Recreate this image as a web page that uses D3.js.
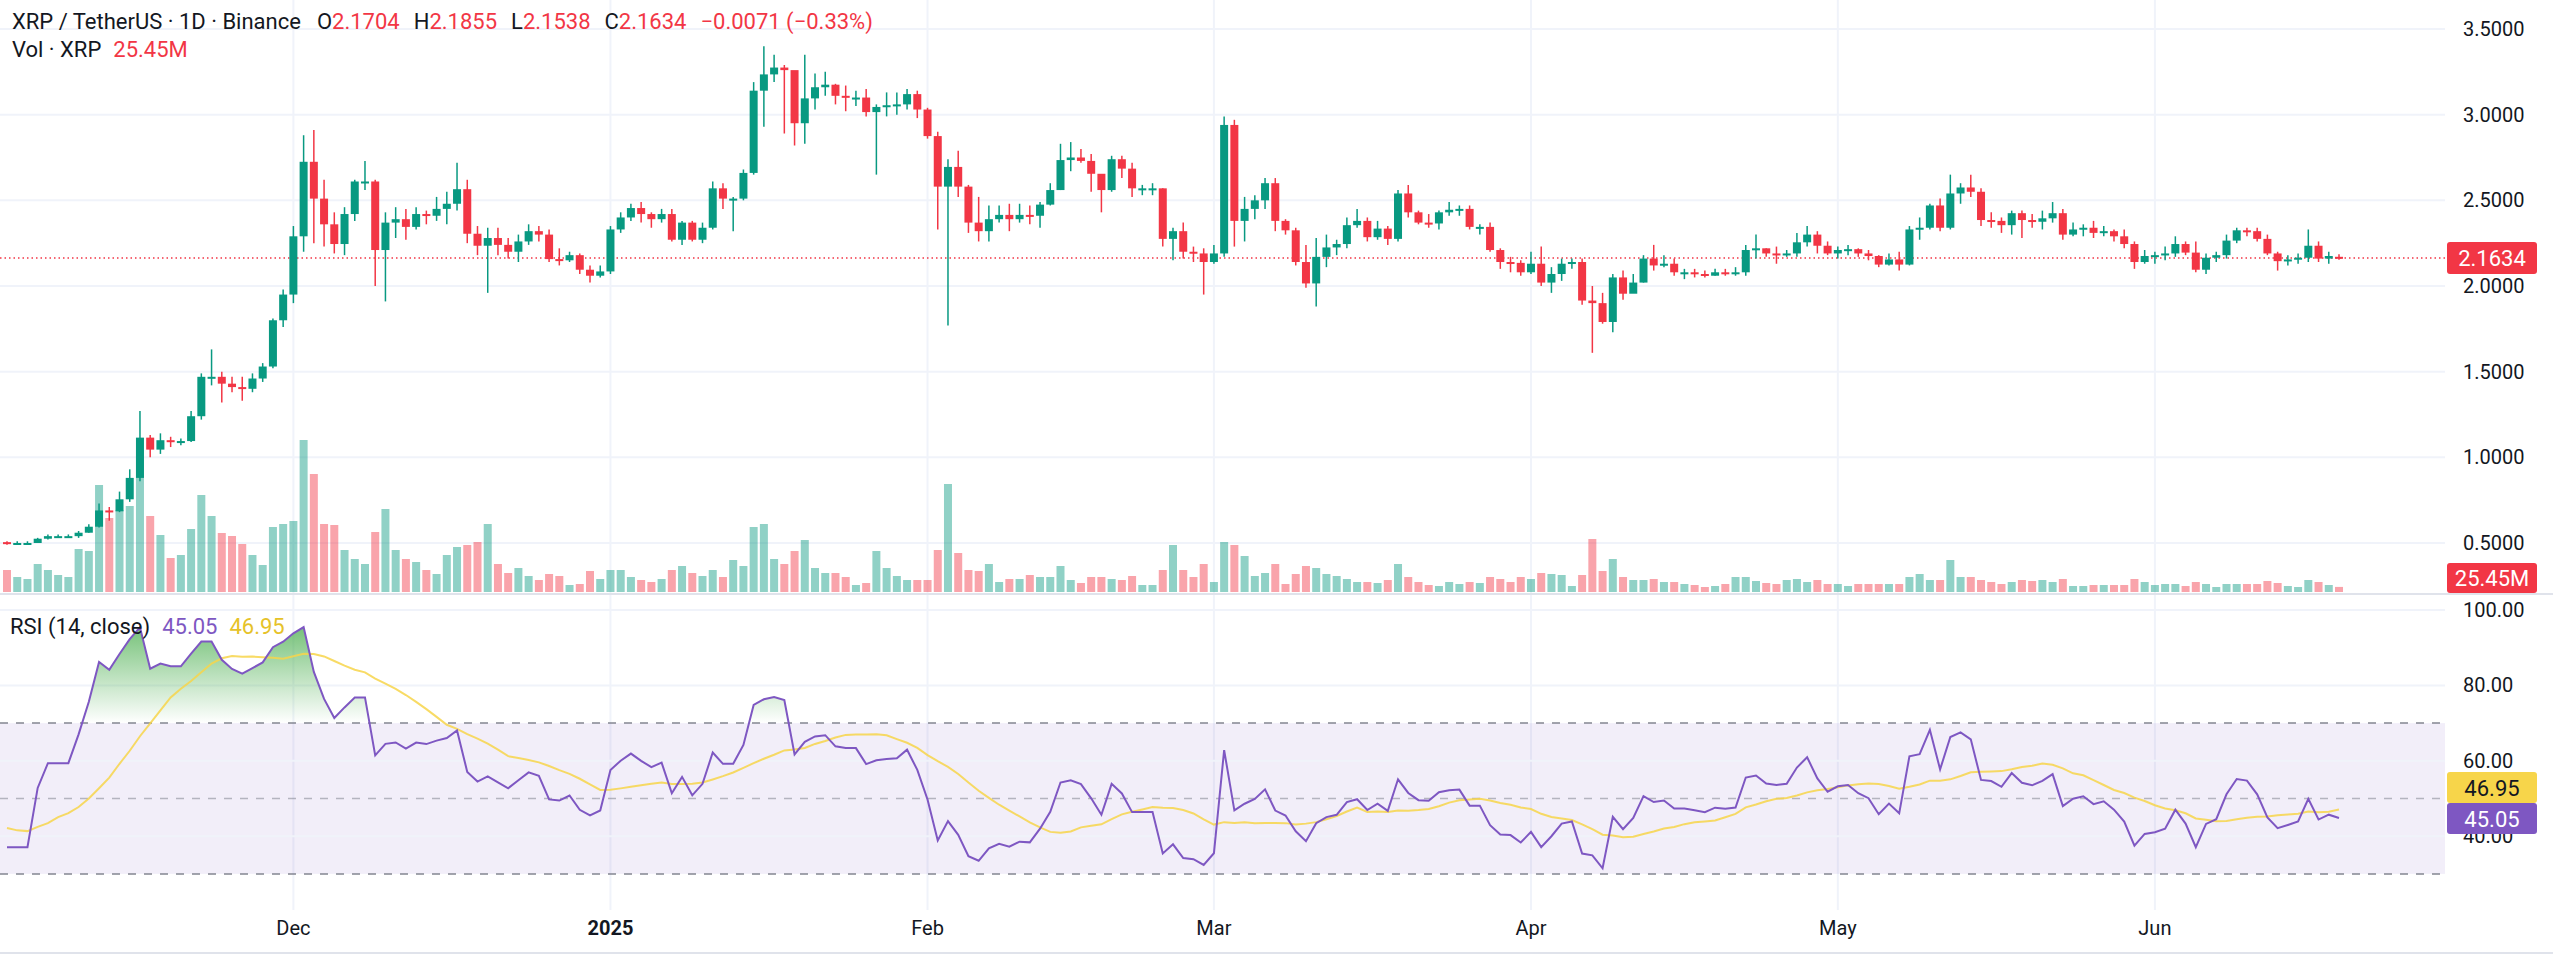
<!DOCTYPE html>
<html>
<head>
<meta charset="utf-8">
<script src="https://cdn.jsdelivr.net/npm/d3@7"></script>
<style>
  body { margin: 0; background: #fff; }
  svg text { font-family: Roboto, "Noto Sans", sans-serif; }
</style>
</head>
<body>
<div id="chart"></div>
<script>
// daily candles, 2024-11-03 .. 2025-06-19 (open = previous close)
var firstOpen = 0.505;
var closes = [].concat(
  [0.50,0.50,0.50,0.525,0.54,0.54,0.54,0.56,0.595,0.69,0.685,0.755,0.88,1.115,1.045,1.10,1.095,1.095,1.24,1.47,1.47,1.43,1.41,1.40,1.46,1.53,1.80,1.95],
  [2.29,2.725,2.51,2.36,2.245,2.42,2.61,2.61,2.21,2.37,2.39,2.345,2.42,2.41,2.45,2.48,2.565,2.305,2.235,2.28,2.24,2.20,2.26,2.32,2.30,2.157,2.15,2.18,2.095,2.06,2.085],
  [2.33,2.40,2.455,2.42,2.39,2.42,2.27,2.37,2.27,2.34,2.57,2.51,2.51,2.66,3.14,3.235,3.275,3.26,2.95,3.095,3.16,3.175,3.11,3.10,3.10,3.015,3.045,3.055,3.06,3.12,3.03],
  [2.875,2.58,2.695,2.58,2.37,2.32,2.39,2.415,2.39,2.415,2.41,2.475,2.56,2.735,2.75,2.73,2.655,2.56,2.74,2.685,2.57,2.57,2.57,2.275,2.32,2.20,2.19,2.14],
  [2.19,2.94,2.38,2.45,2.50,2.60,2.38,2.325,2.14,2.015,2.17,2.225,2.245,2.355,2.38,2.285,2.335,2.275,2.54,2.43,2.37,2.365,2.43,2.445,2.45,2.345,2.345,2.21,2.14,2.135,2.08],
  [2.13,2.02,2.07,2.13,2.14,1.915,1.90,1.79,2.05,1.955,2.02,2.16,2.12,2.13,2.08,2.08,2.07,2.06,2.08,2.075,2.08,2.21,2.22,2.19,2.185,2.19,2.255,2.30,2.235,2.19],
  [2.21,2.215,2.19,2.175,2.125,2.155,2.125,2.33,2.34,2.47,2.34,2.54,2.575,2.55,2.385,2.38,2.355,2.425,2.385,2.375,2.395,2.425,2.30,2.33,2.34,2.31,2.32,2.29,2.245,2.14,2.175],
  [2.18,2.19,2.245,2.195,2.095,2.165,2.18,2.265,2.325,2.32,2.275,2.19,2.145,2.155,2.165,2.235,2.16,2.175,2.1634]
);
var highs = [].concat(
  [0.51,0.51,0.51,0.53,0.55,0.55,0.55,0.57,0.61,0.73,0.71,0.80,0.93,1.27,1.13,1.14,1.12,1.11,1.27,1.49,1.63,1.50,1.47,1.47,1.49,1.55,1.81,1.98],
  [2.35,2.88,2.91,2.62,2.43,2.46,2.62,2.73,2.62,2.43,2.46,2.45,2.46,2.44,2.52,2.55,2.72,2.62,2.35,2.34,2.34,2.28,2.30,2.36,2.35,2.33,2.22,2.20,2.19,2.12,2.12],
  [2.35,2.43,2.48,2.49,2.43,2.45,2.45,2.38,2.38,2.37,2.61,2.60,2.52,2.68,3.19,3.40,3.35,3.29,3.24,3.35,3.24,3.25,3.18,3.17,3.14,3.15,3.06,3.13,3.13,3.15,3.14],
  [3.04,2.90,2.74,2.79,2.59,2.52,2.47,2.47,2.48,2.48,2.47,2.49,2.60,2.83,2.84,2.80,2.77,2.65,2.76,2.76,2.72,2.59,2.60,2.57,2.34,2.37,2.23,2.22],
  [2.24,2.99,2.97,2.52,2.53,2.63,2.63,2.39,2.34,2.24,2.28,2.30,2.27,2.40,2.45,2.40,2.38,2.35,2.56,2.59,2.44,2.42,2.44,2.49,2.47,2.47,2.36,2.37,2.22,2.17,2.15],
  [2.20,2.23,2.11,2.16,2.16,2.16,2.00,1.96,2.07,2.09,2.07,2.18,2.24,2.18,2.16,2.10,2.10,2.09,2.10,2.10,2.11,2.24,2.30,2.22,2.23,2.21,2.31,2.35,2.32,2.26],
  [2.23,2.24,2.22,2.21,2.18,2.19,2.20,2.35,2.40,2.48,2.51,2.65,2.60,2.65,2.57,2.43,2.40,2.44,2.44,2.42,2.44,2.49,2.45,2.37,2.36,2.38,2.35,2.33,2.33,2.26,2.21],
  [2.20,2.23,2.29,2.26,2.26,2.19,2.20,2.30,2.34,2.34,2.34,2.30,2.20,2.18,2.19,2.33,2.26,2.20,2.1855]
);
var lows = [].concat(
  [0.49,0.49,0.49,0.50,0.52,0.53,0.53,0.53,0.56,0.59,0.63,0.68,0.74,0.86,1.00,1.02,1.06,1.07,1.09,1.22,1.42,1.32,1.38,1.33,1.38,1.44,1.52,1.76],
  [1.90,2.20,2.25,2.23,2.19,2.18,2.38,2.56,2.00,1.91,2.28,2.27,2.33,2.36,2.38,2.36,2.44,2.25,2.18,1.96,2.18,2.16,2.14,2.24,2.26,2.14,2.12,2.14,2.07,2.02,2.05],
  [2.07,2.31,2.38,2.37,2.34,2.37,2.26,2.24,2.26,2.25,2.33,2.45,2.32,2.50,2.65,2.93,3.19,2.89,2.82,2.83,3.03,3.11,3.06,3.02,3.05,2.99,2.65,2.99,3.00,3.03,2.98],
  [2.86,2.33,1.77,2.52,2.31,2.26,2.26,2.37,2.32,2.37,2.36,2.34,2.47,2.56,2.67,2.72,2.55,2.43,2.55,2.63,2.52,2.53,2.53,2.23,2.15,2.16,2.14,1.95],
  [2.13,2.17,2.23,2.26,2.39,2.45,2.32,2.30,2.12,1.99,1.88,2.11,2.18,2.22,2.34,2.26,2.27,2.24,2.26,2.40,2.36,2.34,2.33,2.41,2.41,2.33,2.30,2.20,2.10,2.08,2.06],
  [2.07,2.00,1.96,2.03,2.10,1.89,1.61,1.78,1.73,1.92,1.98,2.02,2.09,2.11,2.06,2.04,2.05,2.05,2.06,2.06,2.06,2.06,2.16,2.17,2.13,2.17,2.17,2.23,2.19,2.18],
  [2.16,2.18,2.17,2.15,2.11,2.12,2.09,2.12,2.27,2.33,2.32,2.33,2.48,2.52,2.35,2.34,2.31,2.30,2.28,2.34,2.33,2.37,2.27,2.29,2.29,2.28,2.29,2.26,2.22,2.10,2.13],
  [2.13,2.15,2.17,2.18,2.08,2.07,2.14,2.16,2.25,2.29,2.26,2.18,2.09,2.12,2.13,2.14,2.14,2.13,2.1538]
);
// volume, millions of XRP
var volumes = [].concat(
  [110,75,65,140,110,85,75,215,205,535,370,410,430,710,380,285,170,185,315,485,380,295,280,240,185,135,325,340],
  [355,760,590,340,335,210,165,140,300,415,210,165,150,110,90,185,225,235,250,340,140,95,120,80,60,90,80,35,40,105,65],
  [110,110,75,60,50,65,110,130,95,80,110,75,160,130,325,340,165,140,205,260,120,95,95,75,35,45,205,120,80,60,60],
  [60,210,540,195,110,105,140,50,65,65,85,75,75,130,60,45,75,75,65,60,80,35,35,110,235,110,75,140],
  [50,250,235,180,80,95,140,40,90,130,120,90,80,65,50,50,45,60,140,75,50,35,30,50,40,50,45,75,65,50,75],
  [65,95,90,85,30,85,265,105,165,75,60,60,65,50,50,40,35,25,30,40,75,75,55,45,40,60,65,50,60,40],
  [40,30,40,40,40,40,40,75,90,60,60,160,75,75,60,50,40,50,60,55,60,50,65,30,30,35,35,35,35,65,50],
  [35,40,40,30,50,40,25,40,40,40,40,55,45,30,25,60,50,35,25.45]
);
// closes before the visible range (2024-10-06 .. 11-02), needed for RSI warm-up
var priorCloses = [0.535,0.54,0.53,0.535,0.53,0.535,0.535,0.54,0.545,0.55,0.545,0.545,0.55,0.545,
                   0.545,0.53,0.52,0.515,0.525,0.51,0.52,0.52,0.52,0.525,0.52,0.505,0.515,0.51];

// values shown in the legend / tags
var lastOpen = 2.1704, lastChange = -0.0071, lastChangePct = -0.33;
var lastVol = "25.45M", lastRsi = 45.05, lastRsiMa = 46.95;

var priceTicks = [0.5, 1.0, 1.5, 2.0, 2.5, 3.0, 3.5];
var rsiTicks = [100, 80, 60, 40];
var rsiBands = [70, 50, 30];
var monthTicks = ["2024-12-01","2025-01-01","2025-02-01","2025-03-01","2025-04-01","2025-05-01","2025-06-01"];
var monthLabels = ["Dec","2025","Feb","Mar","Apr","May","Jun"];

var width = 2560, height = 972;
var up = "#089981", down = "#f23645";
var parse = d3.utcParse("%Y-%m-%d");
var start = parse("2024-11-03");
var dates = d3.utcDay.range(start, d3.utcDay.offset(start, closes.length));

var candles = closes.map(function(c, i) {
  return { date: dates[i], open: i ? closes[i-1] : firstOpen, high: highs[i], low: lows[i], close: c, vol: volumes[i] };
});
var last = candles[candles.length-1];
last.open = lastOpen;

// RSI(14) with Wilder smoothing, then SMA(14)
var all = priorCloses.concat(closes);
var rsiAll = [], ag = 0, al = 0;
for (var i = 1; i < all.length; i++) {
  var ch = all[i] - all[i-1], g = Math.max(ch, 0), l = Math.max(-ch, 0);
  if (i <= 14) { ag += g / 14; al += l / 14; }
  else { ag = (ag * 13 + g) / 14; al = (al * 13 + l) / 14; }
  rsiAll[i] = i >= 14 ? (al === 0 ? 100 : 100 - 100 / (1 + ag / al)) : null;
}
var off = priorCloses.length;
candles.forEach(function(d, i) {
  var k = i + off;
  d.rsi = rsiAll[k];
  d.ma = d3.mean(rsiAll.slice(k - 13, k + 1));
});

var x = d3.scaleUtc().domain([dates[0], dates[dates.length-1]]).range([7, 2339]);
var yP = d3.scaleLinear().domain([0.5, 3.5]).range([543, 29]);
var yV = d3.scaleLinear().domain([0, 760]).range([592, 440]);
var yR = d3.scaleLinear().domain([0, 100]).range([987, 610]);
var plotR = 2445;

var svg = d3.select("#chart").append("svg").attr("width", width).attr("height", height);
var grid = "#f0f3fa";

// vertical month grid
svg.append("g").selectAll("line").data(monthTicks).enter().append("line")
  .attr("x1", function(d) { return x(parse(d)); }).attr("x2", function(d) { return x(parse(d)); })
  .attr("y1", 0).attr("y2", 910).attr("stroke", grid).attr("stroke-width", 2);

// price grid + labels
svg.append("g").selectAll("line").data(priceTicks).enter().append("line")
  .attr("x1", 0).attr("x2", plotR).attr("y1", yP).attr("y2", yP).attr("stroke", grid).attr("stroke-width", 2);
svg.append("g").selectAll("text").data(priceTicks).enter().append("text")
  .attr("x", 2463).attr("y", function(d) { return yP(d) + 7; })
  .attr("font-size", 20).attr("fill", "#131722").text(function(d) { return d.toFixed(4); });

// volume bars
svg.append("g").selectAll("rect").data(candles).enter().append("rect")
  .attr("x", function(d) { return x(d.date) - 4; }).attr("width", 8)
  .attr("y", function(d) { return yV(d.vol); }).attr("height", function(d) { return yV(0) - yV(d.vol); })
  .attr("fill", function(d) { return d.close >= d.open ? up : down; }).attr("opacity", 0.45);

// last price line
svg.append("line").attr("x1", 0).attr("x2", plotR).attr("y1", yP(last.close)).attr("y2", yP(last.close))
  .attr("stroke", down).attr("stroke-width", 1.5).attr("stroke-dasharray", "1.5,3");

// candles
var cg = svg.append("g").selectAll("g").data(candles).enter().append("g")
  .attr("fill", function(d) { return d.close >= d.open ? up : down; })
  .attr("stroke", function(d) { return d.close >= d.open ? up : down; });
cg.append("line")
  .attr("x1", function(d) { return x(d.date); }).attr("x2", function(d) { return x(d.date); })
  .attr("y1", function(d) { return yP(d.high); }).attr("y2", function(d) { return yP(d.low); })
  .attr("stroke-width", 1.5);
cg.append("rect")
  .attr("x", function(d) { return x(d.date) - 4; }).attr("width", 8).attr("stroke", "none")
  .attr("y", function(d) { return yP(Math.max(d.open, d.close)); })
  .attr("height", function(d) { return Math.max(2, Math.abs(yP(d.open) - yP(d.close))); });

// pane separators
[594, 953].forEach(function(yy) {
  svg.append("line").attr("x1", 0).attr("x2", 2553).attr("y1", yy).attr("y2", yy).attr("stroke", "#e0e3eb").attr("stroke-width", 2);
});

// RSI pane
svg.append("rect").attr("x", 0).attr("width", plotR).attr("y", yR(70)).attr("height", yR(30) - yR(70))
  .attr("fill", "#7e57c2").attr("opacity", 0.1);
svg.append("g").selectAll("line").data(rsiTicks).enter().append("line")
  .attr("x1", 0).attr("x2", plotR).attr("y1", yR).attr("y2", yR).attr("stroke", grid).attr("stroke-width", 2);
svg.append("g").selectAll("line").data(rsiBands).enter().append("line")
  .attr("x1", 0).attr("x2", plotR).attr("y1", yR).attr("y2", yR)
  .attr("stroke", "#787b86").attr("stroke-width", 1.5).attr("stroke-dasharray", "8,8")
  .attr("opacity", function(d) { return d === 50 ? 0.5 : 0.9; });
svg.append("g").selectAll("text").data(rsiTicks.filter(function(d) { return d !== 40; })).enter().append("text")
  .attr("x", 2463).attr("y", function(d) { return yR(d) + 7; })
  .attr("font-size", 20).attr("fill", "#131722").text(function(d) { return d.toFixed(2); });
// 40.00 sits partly under the RSI tag, as in the original; clip it to the visible part
svg.append("defs").append("clipPath").attr("id", "below-tag").append("rect")
  .attr("x", 2440).attr("y", 834).attr("width", 120).attr("height", 30);
svg.append("text").attr("clip-path", "url(#below-tag)")
  .attr("x", 2463).attr("y", yR(40) + 7).attr("font-size", 20).attr("fill", "#131722").text((40).toFixed(2));

var defs = svg.append("defs");
var grad = defs.append("linearGradient").attr("id", "ob").attr("gradientUnits", "userSpaceOnUse")
  .attr("x1", 0).attr("x2", 0).attr("y1", yR(100)).attr("y2", yR(70));
grad.append("stop").attr("offset", 0).attr("stop-color", "#4caf50").attr("stop-opacity", 0.9);
grad.append("stop").attr("offset", 1).attr("stop-color", "#4caf50").attr("stop-opacity", 0);
defs.append("clipPath").attr("id", "above70").append("rect")
  .attr("x", 0).attr("y", 0).attr("width", plotR).attr("height", yR(70));

svg.append("path").datum(candles).attr("clip-path", "url(#above70)")
  .attr("fill", "url(#ob)")
  .attr("d", d3.area().x(function(d) { return x(d.date); }).y0(yR(70)).y1(function(d) { return yR(d.rsi); }));

svg.append("path").datum(candles).attr("fill", "none").attr("stroke", "#f7d54a").attr("stroke-width", 2).attr("opacity", 0.85)
  .attr("d", d3.line().x(function(d) { return x(d.date); }).y(function(d) { return yR(d.ma); }));
svg.append("path").datum(candles).attr("fill", "none").attr("stroke", "#7e57c2").attr("stroke-width", 2)
  .attr("d", d3.line().x(function(d) { return x(d.date); }).y(function(d) { return yR(d.rsi); }));

// x axis labels
svg.append("g").selectAll("text").data(monthTicks).enter().append("text")
  .attr("x", function(d) { return x(parse(d)); }).attr("y", 935).attr("text-anchor", "middle")
  .attr("font-size", 20).attr("fill", "#131722")
  .attr("font-weight", function(d, i) { return monthLabels[i] === "2025" ? "bold" : "normal"; })
  .text(function(d, i) { return monthLabels[i]; });

// right-axis value tags
function tag(y0, h, fill, color, label) {
  svg.append("rect").attr("x", 2447).attr("y", y0).attr("width", 90).attr("height", h).attr("rx", 3).attr("fill", fill);
  svg.append("text").attr("x", 2492).attr("y", y0 + h / 2 + 8).attr("text-anchor", "middle")
    .attr("font-size", 22).attr("fill", color).text(label);
}
tag(yP(last.close) - 16, 32, down, "#fff", last.close.toFixed(4));
tag(563, 30, down, "#fff", lastVol);
tag(772, 31, "#f7d54a", "#131722", lastRsiMa.toFixed(2));
tag(803, 31, "#7e57c2", "#fff", lastRsi.toFixed(2));

// legends
var t1 = svg.append("text").attr("x", 12).attr("y", 29).attr("font-size", 22).attr("fill", "#131722");
t1.append("tspan").text("XRP / TetherUS · 1D · Binance");
[["O", last.open], ["H", last.high], ["L", last.low], ["C", last.close]].forEach(function(p, i) {
  t1.append("tspan").attr("dx", i ? 14 : 16).text(p[0]);
  t1.append("tspan").attr("fill", down).text(p[1].toFixed(4));
});
t1.append("tspan").attr("dx", 14).attr("fill", down)
  .text(lastChange.toFixed(4).replace("-", "−") + " (" + lastChangePct.toFixed(2).replace("-", "−") + "%)");

var t2 = svg.append("text").attr("x", 12).attr("y", 57).attr("font-size", 22).attr("fill", "#131722");
t2.append("tspan").text("Vol · XRP");
t2.append("tspan").attr("dx", 12).attr("fill", down).text(lastVol);

var t3 = svg.append("text").attr("x", 10).attr("y", 634).attr("font-size", 22).attr("fill", "#131722");
t3.append("tspan").text("RSI (14, close)");
t3.append("tspan").attr("dx", 12).attr("fill", "#7e57c2").text(lastRsi.toFixed(2));
t3.append("tspan").attr("dx", 12).attr("fill", "#e6c229").text(lastRsiMa.toFixed(2));
</script>
</body>
</html>
